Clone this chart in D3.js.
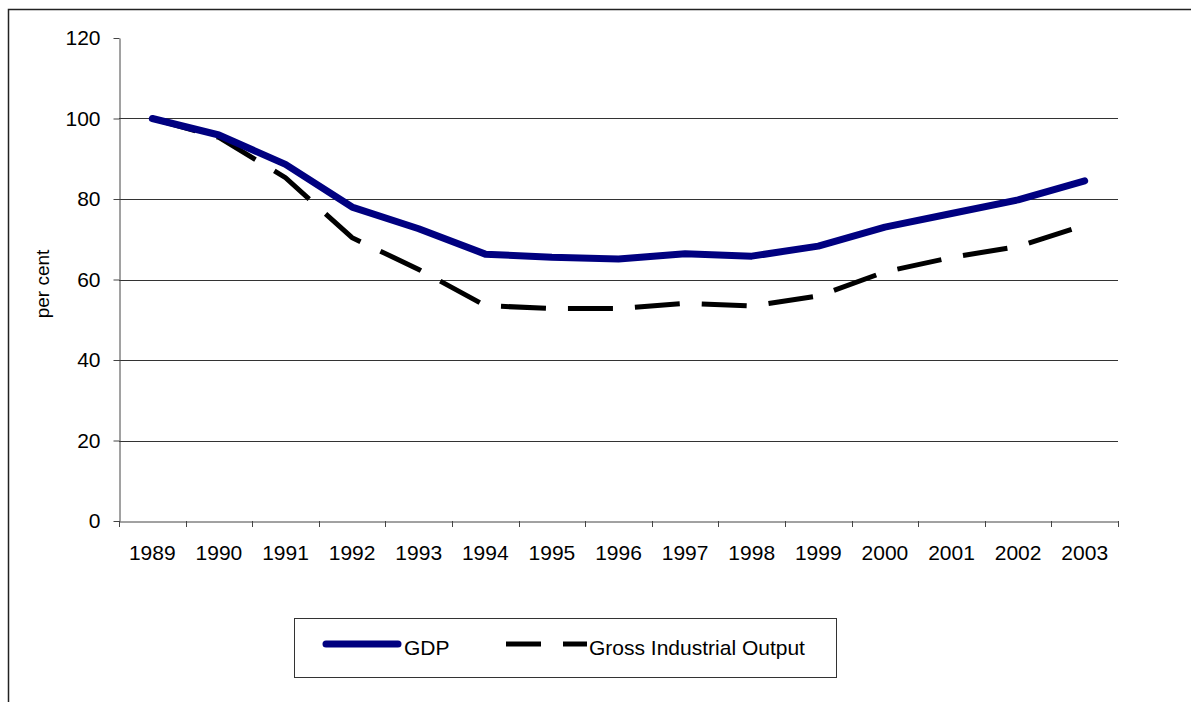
<!DOCTYPE html>
<html>
<head>
<meta charset="utf-8">
<script src="https://cdn.jsdelivr.net/npm/d3@7"></script>
<style>
    body { margin: 0; background: #fff; }
    svg { display: block; font-family: "Liberation Sans", Arial, sans-serif; }
</style>
</head>
<body>
<div id="chart"></div>
<script>
var years = ["1989", "1990", "1991", "1992", "1993", "1994", "1995", "1996",
             "1997", "1998", "1999", "2000", "2001", "2002", "2003"];
var gdp = [100, 95.9, 88.6, 78.0, 72.6, 66.3, 65.5, 65.1, 66.4, 65.8, 68.3, 73.0, 76.4, 79.8, 84.5];
var gio = [100, 95.3, 85.3, 70.4, 62.5, 53.5, 52.8, 52.8, 54.1, 53.4, 55.9, 61.9, 65.5, 68.2, 73.5];
var yTicks = [0, 20, 40, 60, 80, 100, 120];
var seriesNames = ["GDP", "Gross Industrial Output"];

function init() {
    var w = 1191;
    var h = 702;

    var svg = d3.select("#chart")
            .append("svg")
            .attr("width", w)
            .attr("height", h);

    // outer chart frame (runs off the right and bottom edges)
    svg.append("rect")
        .attr("x", 8.5)
        .attr("y", 9.5)
        .attr("width", 1300)
        .attr("height", 800)
        .attr("fill", "none")
        .attr("stroke", "#222")
        .attr("stroke-width", 1.5);

    var x = d3.scaleBand()
                .domain(years)
                .range([119, 1118]);

    var y = d3.scaleLinear()
                .domain([0, 120])
                .range([521, 38]);

    // horizontal gridlines
    svg.selectAll(".grid")
        .data(yTicks.filter(function(d) { return d > 0 && d < 120; }))
        .enter()
        .append("line")
        .attr("x1", 119)
        .attr("x2", 1118)
        .attr("y1", function(d) { return Math.round(y(d)) + 0.5; })
        .attr("y2", function(d) { return Math.round(y(d)) + 0.5; })
        .attr("stroke", "#333")
        .attr("stroke-width", 1);

    // y axis
    var yAxis = svg.append("g")
        .attr("transform", "translate(119.5,0)")
        .call(d3.axisLeft(y).tickValues(yTicks).tickSize(6).tickPadding(13).tickSizeOuter(0));
    yAxis.select(".domain").attr("stroke", "#444");
    yAxis.selectAll(".tick line").attr("stroke", "#444");
    yAxis.selectAll("text")
        .attr("font-size", 21)
        .attr("font-family", "Liberation Sans, Arial, sans-serif")
        .attr("fill", "#000");

    // x axis labels at band centres
    var xAxis = svg.append("g")
        .attr("transform", "translate(0,521.5)")
        .call(d3.axisBottom(x).tickSize(0).tickPadding(24));
    xAxis.select(".domain").attr("stroke", "#444");
    xAxis.selectAll("text")
        .attr("font-size", 21)
        .attr("font-family", "Liberation Sans, Arial, sans-serif")
        .attr("fill", "#000");

    // x ticks between categories
    var bounds = years.map(function(d) { return x(d); }).concat([x.range()[1]]);
    svg.selectAll(".xtick")
        .data(bounds)
        .enter()
        .append("line")
        .attr("x1", function(d) { return Math.round(d) + 0.5; })
        .attr("x2", function(d) { return Math.round(d) + 0.5; })
        .attr("y1", 521)
        .attr("y2", 527)
        .attr("stroke", "#444");

    // y axis title
    svg.append("text")
        .attr("transform", "translate(49,284) rotate(-90)")
        .attr("text-anchor", "middle")
        .attr("font-size", 19)
        .text("per cent");

    var line = d3.line()
        .x(function(d, i) { return x(years[i]) + x.bandwidth() / 2; })
        .y(function(d) { return y(d); });

    svg.append("path")
        .datum(gio)
        .attr("d", line)
        .attr("fill", "none")
        .attr("stroke", "#000")
        .attr("stroke-width", 5)
        .attr("stroke-dasharray", "45,22");

    svg.append("path")
        .datum(gdp)
        .attr("d", line)
        .attr("fill", "none")
        .attr("stroke", "#000080")
        .attr("stroke-width", 7)
        .attr("stroke-linecap", "round")
        .attr("stroke-linejoin", "round");

    // legend
    var legend = svg.append("g");
    legend.append("rect")
        .attr("x", 294.5)
        .attr("y", 618.5)
        .attr("width", 542)
        .attr("height", 59)
        .attr("fill", "#fff")
        .attr("stroke", "#333");

    legend.append("line")
        .attr("x1", 326).attr("x2", 398)
        .attr("y1", 644).attr("y2", 644)
        .attr("stroke", "#000080")
        .attr("stroke-width", 7)
        .attr("stroke-linecap", "round");
    legend.append("text")
        .attr("x", 404).attr("y", 655)
        .attr("font-size", 21)
        .text(seriesNames[0]);

    legend.append("line")
        .attr("x1", 506).attr("x2", 587)
        .attr("y1", 644).attr("y2", 644)
        .attr("stroke", "#000")
        .attr("stroke-width", 5)
        .attr("stroke-dasharray", "35,22");
    legend.append("text")
        .attr("x", 589).attr("y", 655)
        .attr("font-size", 21)
        .text(seriesNames[1]);
}

window.onload = init;
</script>
</body>
</html>
